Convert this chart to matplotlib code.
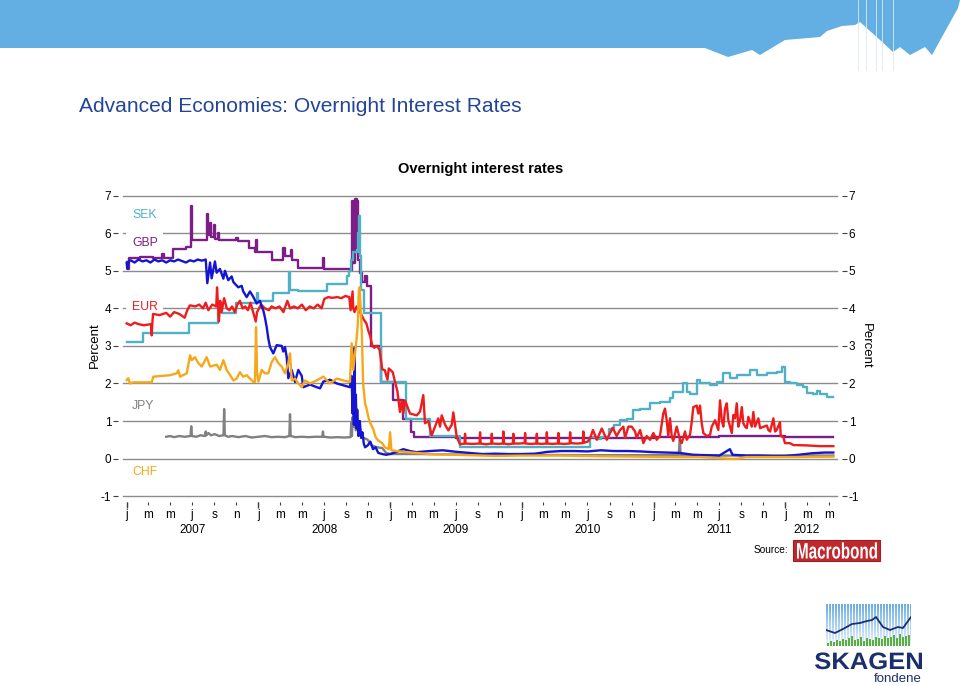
import matplotlib
matplotlib.use("Agg")
import matplotlib.pyplot as plt
import matplotlib.dates as mdates
from matplotlib.patches import Rectangle, Polygon, PathPatch
from matplotlib.lines import Line2D
from matplotlib.ticker import FuncFormatter
from matplotlib.textpath import TextPath
from matplotlib.font_manager import FontProperties
from matplotlib.transforms import Affine2D
import numpy as np
import pandas as pd

plt.rcParams['font.family'] = ['Liberation Sans', 'DejaVu Sans']
plt.rcParams['axes.unicode_minus'] = False

# ---------------- data (decimal years, percent) ----------------
usd_t = [2007.000, 2007.005, 2007.015, 2007.03, 2007.06, 2007.09, 2007.12, 2007.15, 2007.18, 2007.21,
         2007.24, 2007.27, 2007.30, 2007.33, 2007.36, 2007.39, 2007.42, 2007.45, 2007.48, 2007.51,
         2007.54, 2007.57, 2007.60, 2007.612, 2007.633, 2007.645, 2007.670, 2007.683, 2007.708, 2007.734,
         2007.746, 2007.771, 2007.797, 2007.810, 2007.847, 2007.873, 2007.885, 2007.911, 2007.936, 2007.962,
         2007.987, 2008.012, 2008.025, 2008.037, 2008.050, 2008.063, 2008.075, 2008.088, 2008.113, 2008.139,
         2008.177, 2008.189, 2008.202, 2008.215, 2008.227, 2008.253, 2008.278, 2008.303, 2008.329, 2008.341,
         2008.392, 2008.443, 2008.468, 2008.493, 2008.544, 2008.595, 2008.645, 2008.695, 2008.708, 2008.715,
         2008.720, 2008.725, 2008.730, 2008.735, 2008.740, 2008.745, 2008.750, 2008.760, 2008.770, 2008.780,
         2008.790, 2008.800, 2008.810, 2008.830, 2008.850, 2008.870, 2008.890, 2008.910, 2008.940, 2008.970,
         2009.00, 2009.05, 2009.10, 2009.15, 2009.20, 2009.30, 2009.40, 2009.50, 2009.60, 2009.70,
         2009.80, 2009.90, 2010.00, 2010.10, 2010.20, 2010.30, 2010.40, 2010.50, 2010.60, 2010.70,
         2010.80, 2010.90, 2011.00, 2011.10, 2011.20, 2011.30, 2011.40, 2011.50, 2011.58, 2011.60,
         2011.70, 2011.80, 2011.90, 2012.00, 2012.10, 2012.20, 2012.30, 2012.365]
usd_v = [5.20, 5.05, 5.25, 5.28, 5.22, 5.30, 5.25, 5.28, 5.22, 5.30,
         5.25, 5.28, 5.22, 5.28, 5.25, 5.30, 5.26, 5.22, 5.28, 5.25,
         5.30, 5.27, 5.30, 4.67, 5.22, 4.80, 5.25, 4.95, 5.05, 4.79,
         5.00, 4.75, 4.85, 4.70, 4.56, 4.60, 4.45, 4.30, 4.45, 4.30,
         4.13, 4.20, 4.05, 3.95, 3.75, 3.50, 3.20, 2.97, 2.80, 3.02,
         3.00, 2.85, 2.97, 2.70, 2.14, 2.36, 2.04, 2.36, 2.20, 1.90,
         1.97, 1.90, 1.87, 2.05, 2.10, 2.00, 1.95, 1.90, 2.20, 1.20,
         2.00, 0.90, 2.95, 0.90, 1.70, 0.80, 1.30, 0.60, 1.00, 0.55,
         0.70, 0.40, 0.30, 0.35, 0.45, 0.25, 0.30, 0.15, 0.12, 0.10,
         0.12, 0.18, 0.25, 0.20, 0.17, 0.20, 0.22, 0.18, 0.15, 0.12,
         0.13, 0.12, 0.12, 0.13, 0.18, 0.20, 0.20, 0.19, 0.22, 0.20,
         0.20, 0.19, 0.17, 0.16, 0.15, 0.10, 0.09, 0.08, 0.25, 0.10,
         0.08, 0.08, 0.07, 0.07, 0.10, 0.14, 0.16, 0.16]

eur_t = [2007.000, 2007.030, 2007.060, 2007.090, 2007.130, 2007.185, 2007.190, 2007.195, 2007.200, 2007.250,
         2007.300, 2007.330, 2007.360, 2007.400, 2007.440, 2007.460, 2007.480, 2007.520, 2007.550, 2007.580,
         2007.600, 2007.620, 2007.650, 2007.680, 2007.686, 2007.700, 2007.710, 2007.720, 2007.740, 2007.760,
         2007.780, 2007.800, 2007.820, 2007.840, 2007.860, 2007.880, 2007.900, 2007.920, 2007.940, 2007.960,
         2007.980, 2007.990, 2008.020, 2008.050, 2008.080, 2008.100, 2008.130, 2008.160, 2008.190, 2008.220,
         2008.240, 2008.270, 2008.300, 2008.330, 2008.360, 2008.390, 2008.420, 2008.450, 2008.480, 2008.500,
         2008.530, 2008.560, 2008.600, 2008.630, 2008.660, 2008.690, 2008.700, 2008.710, 2008.715, 2008.720,
         2008.730, 2008.745, 2008.760, 2008.780, 2008.800, 2008.820, 2008.835, 2008.850, 2008.865, 2008.880,
         2008.900, 2008.920, 2008.940, 2008.960, 2008.980, 2008.990, 2009.020, 2009.040, 2009.055, 2009.062,
         2009.075, 2009.088, 2009.100, 2009.113, 2009.151, 2009.202, 2009.227, 2009.252, 2009.265, 2009.290,
         2009.316, 2009.341, 2009.366, 2009.379, 2009.392, 2009.417, 2009.442, 2009.468, 2009.480, 2009.493,
         2009.506, 2009.531, 2009.565, 2009.569, 2009.573, 2009.620, 2009.679, 2009.683, 2009.687, 2009.730,
         2009.768, 2009.772, 2009.776, 2009.820, 2009.856, 2009.860, 2009.864, 2009.900, 2009.932, 2009.936,
         2009.940, 2009.980, 2010.021, 2010.025, 2010.029, 2010.070, 2010.110, 2010.114, 2010.118, 2010.150,
         2010.186, 2010.190, 2010.194, 2010.230, 2010.274, 2010.278, 2010.282, 2010.320, 2010.363, 2010.367,
         2010.371, 2010.420, 2010.463, 2010.467, 2010.471, 2010.500, 2010.520, 2010.540, 2010.570, 2010.607,
         2010.645, 2010.690, 2010.720, 2010.746, 2010.771, 2010.784, 2010.809, 2010.834, 2010.860, 2010.872,
         2010.898, 2010.923, 2010.948, 2010.974, 2010.999, 2011.024, 2011.049, 2011.074, 2011.087, 2011.100,
         2011.112, 2011.125, 2011.138, 2011.150, 2011.176, 2011.201, 2011.214, 2011.239, 2011.252, 2011.277,
         2011.290, 2011.302, 2011.328, 2011.340, 2011.353, 2011.366, 2011.378, 2011.404, 2011.429, 2011.442,
         2011.467, 2011.492, 2011.505, 2011.518, 2011.530, 2011.543, 2011.556, 2011.568, 2011.594, 2011.606,
         2011.619, 2011.632, 2011.644, 2011.657, 2011.670, 2011.682, 2011.695, 2011.708, 2011.720, 2011.746,
         2011.758, 2011.771, 2011.796, 2011.809, 2011.860, 2011.872, 2011.885, 2011.910, 2011.923, 2011.935,
         2011.960, 2011.966, 2011.986, 2011.998, 2012.036, 2012.061, 2012.163, 2012.264, 2012.365]
eur_v = [3.60, 3.55, 3.62, 3.58, 3.55, 3.58, 3.28, 3.62, 3.85, 3.82,
         3.88, 3.78, 3.90, 3.85, 3.75, 3.95, 4.08, 4.05, 4.10, 4.00,
         4.15, 3.95, 4.10, 4.05, 4.56, 3.65, 4.20, 3.90, 4.27, 4.00,
         3.95, 4.05, 3.90, 4.10, 4.20, 4.00, 4.05, 3.95, 4.15, 3.90,
         3.65, 3.90, 4.10, 4.00, 3.95, 4.05, 4.00, 4.05, 3.90, 4.20,
         4.00, 4.05, 4.00, 4.10, 3.95, 4.05, 4.00, 4.10, 4.00, 4.25,
         4.30, 4.28, 4.30, 4.27, 4.33, 4.30, 3.95, 4.30, 4.45, 4.00,
         3.90, 4.05, 3.95, 3.85, 3.70, 3.60, 3.40, 3.25, 3.00, 2.95,
         3.00, 2.90, 2.38, 2.35, 2.10, 2.40, 2.30, 2.00, 1.80, 1.60,
         1.24, 1.55, 1.20, 1.55, 1.20, 1.15, 1.25, 1.69, 0.94, 1.00,
         0.62, 0.85, 1.07, 0.85, 1.15, 0.90, 0.75, 0.90, 1.23, 0.90,
         0.57, 0.38, 0.40, 0.66, 0.40, 0.39, 0.40, 0.70, 0.40, 0.38,
         0.40, 0.66, 0.40, 0.39, 0.40, 0.72, 0.40, 0.38, 0.40, 0.66,
         0.40, 0.40, 0.41, 0.68, 0.40, 0.39, 0.40, 0.66, 0.40, 0.39,
         0.40, 0.70, 0.40, 0.39, 0.40, 0.68, 0.40, 0.39, 0.40, 0.70,
         0.41, 0.40, 0.41, 0.72, 0.42, 0.45, 0.55, 0.76, 0.50, 0.80,
         0.50, 0.82, 0.60, 0.76, 0.85, 0.55, 0.85, 0.85, 0.72, 0.55,
         0.76, 0.41, 0.60, 0.50, 0.68, 0.50, 0.60, 1.20, 1.33, 1.02,
         0.60, 1.07, 0.60, 0.47, 0.85, 0.50, 0.41, 0.72, 0.50, 0.63,
         0.97, 1.37, 1.41, 1.20, 1.41, 0.94, 0.68, 0.60, 0.63, 0.85,
         1.02, 0.76, 1.55, 1.02, 0.85, 1.33, 1.47, 1.02, 0.68, 1.16,
         1.07, 1.47, 0.85, 1.02, 1.37, 0.94, 0.85, 0.81, 1.11, 0.85,
         1.24, 0.85, 1.07, 0.81, 0.88, 0.76, 0.72, 1.07, 0.72, 0.76,
         0.97, 0.60, 0.57, 0.41, 0.41, 0.36, 0.35, 0.33, 0.33]

gbp_t = [2007.000, 2007.008, 2007.015, 2007.100, 2007.200, 2007.270, 2007.280, 2007.350, 2007.450, 2007.490,
         2007.495, 2007.610, 2007.615, 2007.635, 2007.640, 2007.665, 2007.670, 2007.690, 2007.700, 2007.830,
         2007.845, 2007.930, 2007.975, 2007.985, 2007.990, 2008.105, 2008.190, 2008.200, 2008.245, 2008.255,
         2008.300, 2008.490, 2008.495, 2008.600, 2008.700, 2008.712, 2008.722, 2008.735, 2008.745, 2008.752,
         2008.760, 2008.775, 2008.790, 2008.810, 2008.825, 2008.852, 2008.930, 2009.020, 2009.100, 2009.160,
         2009.180, 2009.500, 2010.000, 2010.500, 2011.000, 2011.500, 2012.000, 2012.365]
gbp_v = [5.24, 5.06, 5.33, 5.36, 5.33, 5.46, 5.34, 5.59, 5.64, 6.72,
         5.81, 6.50, 5.95, 6.26, 5.90, 6.22, 5.85, 6.00, 5.82, 5.88,
         5.80, 5.62, 5.50, 5.83, 5.50, 5.28, 5.60, 5.40, 5.55, 5.30,
         5.08, 5.33, 5.06, 5.04, 5.03, 6.85, 5.20, 6.90, 5.60, 6.85,
         5.30, 4.95, 4.70, 4.85, 4.60, 3.00, 2.05, 1.55, 1.05, 0.70,
         0.58, 0.55, 0.56, 0.56, 0.58, 0.60, 0.58, 0.57]

sek_t = [2007.000, 2007.125, 2007.470, 2007.690, 2007.700, 2007.720, 2007.830, 2007.990, 2008.000, 2008.110,
         2008.230, 2008.240, 2008.300, 2008.520, 2008.670, 2008.690, 2008.705, 2008.720, 2008.755, 2008.762,
         2008.770, 2008.780, 2008.800, 2008.930, 2009.120, 2009.300, 2009.530, 2010.520, 2010.560, 2010.600,
         2010.660, 2010.700, 2010.746, 2010.797, 2010.847, 2010.898, 2010.974, 2011.050, 2011.126, 2011.151,
         2011.226, 2011.252, 2011.277, 2011.328, 2011.353, 2011.429, 2011.480, 2011.530, 2011.580, 2011.632,
         2011.708, 2011.733, 2011.783, 2011.860, 2011.935, 2011.973, 2011.998, 2012.036, 2012.087, 2012.137,
         2012.163, 2012.213, 2012.239, 2012.264, 2012.315, 2012.365]
sek_v = [3.10, 3.35, 3.62, 3.88, 4.15, 3.88, 4.15, 4.40, 4.20, 4.42,
         4.97, 4.50, 4.45, 4.66, 4.85, 5.00, 5.30, 5.50, 6.00, 6.45,
         5.40, 4.50, 3.88, 2.05, 1.05, 0.60, 0.32, 0.57, 0.52, 0.58,
         0.80, 0.90, 1.02, 1.06, 1.29, 1.33, 1.47, 1.51, 1.60, 1.77,
         2.00, 1.77, 1.73, 2.09, 2.00, 1.97, 2.05, 2.27, 2.14, 2.22,
         2.22, 2.35, 2.22, 2.27, 2.30, 2.43, 2.03, 2.00, 1.95, 1.90,
         1.74, 1.72, 1.80, 1.72, 1.64, 1.65]

chf_t = [2007.000, 2007.012, 2007.025, 2007.050, 2007.100, 2007.190, 2007.202, 2007.329, 2007.380, 2007.392,
         2007.405, 2007.456, 2007.481, 2007.494, 2007.519, 2007.544, 2007.570, 2007.607, 2007.633, 2007.683,
         2007.708, 2007.734, 2007.759, 2007.784, 2007.810, 2007.835, 2007.860, 2007.885, 2007.911, 2007.936,
         2007.962, 2007.974, 2007.982, 2007.990, 2008.000, 2008.025, 2008.050, 2008.075, 2008.101, 2008.126,
         2008.151, 2008.177, 2008.202, 2008.227, 2008.240, 2008.253, 2008.278, 2008.303, 2008.329, 2008.354,
         2008.392, 2008.443, 2008.493, 2008.544, 2008.595, 2008.645, 2008.695, 2008.708, 2008.720, 2008.746,
         2008.755, 2008.762, 2008.768, 2008.775, 2008.785, 2008.795, 2008.810, 2008.820, 2008.835, 2008.850,
         2008.870, 2008.890, 2008.910, 2008.940, 2008.960, 2008.990, 2009.000, 2009.010, 2009.050, 2009.100,
         2009.200, 2009.300, 2009.500, 2009.800, 2010.000, 2010.300, 2010.600, 2010.900, 2011.200, 2011.350,
         2011.450, 2011.600, 2011.650, 2011.700, 2012.000, 2012.365]
chf_v = [2.09, 2.14, 2.00, 2.03, 2.03, 2.03, 2.18, 2.22, 2.27, 2.35,
         2.18, 2.27, 2.75, 2.62, 2.70, 2.54, 2.45, 2.70, 2.45, 2.50,
         2.36, 2.62, 2.36, 2.23, 2.08, 2.13, 2.30, 2.18, 2.22, 2.13,
         2.04, 2.04, 3.50, 2.30, 2.05, 2.36, 2.27, 2.27, 2.57, 2.70,
         2.54, 2.45, 2.27, 2.54, 2.80, 2.08, 2.13, 2.00, 1.90, 2.08,
         2.00, 2.08, 2.18, 2.00, 2.13, 2.08, 2.04, 3.07, 2.36, 3.20,
         3.60, 4.45, 4.56, 4.10, 3.40, 2.00, 1.47, 1.35, 1.10, 0.94,
         0.80, 0.57, 0.48, 0.41, 0.30, 0.25, 0.70, 0.22, 0.20, 0.18,
         0.15, 0.12, 0.10, 0.07, 0.08, 0.08, 0.06, 0.05, 0.04, 0.04,
         0.02, -0.01, 0.00, 0.04, 0.04, 0.05]

jpy_t = [2007.300, 2007.330, 2007.360, 2007.400, 2007.440, 2007.485, 2007.490, 2007.495, 2007.530, 2007.560,
         2007.595, 2007.600, 2007.605, 2007.620, 2007.640, 2007.670, 2007.700, 2007.735, 2007.740, 2007.745,
         2007.770, 2007.800, 2007.850, 2007.900, 2007.950, 2008.000, 2008.050, 2008.100, 2008.150, 2008.200,
         2008.235, 2008.240, 2008.245, 2008.280, 2008.330, 2008.380, 2008.430, 2008.485, 2008.490, 2008.495,
         2008.550, 2008.600, 2008.650, 2008.700, 2008.705, 2008.710, 2008.715, 2008.720, 2008.730, 2008.740,
         2008.750, 2008.760, 2008.770, 2008.780, 2008.800, 2008.830, 2008.860, 2008.900, 2008.940, 2008.970,
         2009.000, 2009.200, 2009.500, 2010.000, 2010.500, 2011.000, 2011.190, 2011.200, 2011.205, 2011.500,
         2012.000, 2012.365]
jpy_v = [0.58, 0.60, 0.57, 0.60, 0.58, 0.60, 0.86, 0.60, 0.58, 0.62,
         0.60, 0.72, 0.62, 0.68, 0.62, 0.65, 0.60, 0.62, 1.32, 0.62,
         0.58, 0.60, 0.57, 0.60, 0.56, 0.58, 0.60, 0.57, 0.58, 0.57,
         0.60, 1.18, 0.60, 0.57, 0.58, 0.57, 0.58, 0.58, 0.72, 0.58,
         0.56, 0.57, 0.56, 0.57, 0.95, 0.60, 1.10, 0.85, 0.95, 0.75,
         0.85, 0.70, 0.80, 0.60, 0.55, 0.50, 0.35, 0.30, 0.28, 0.15,
         0.12, 0.12, 0.11, 0.10, 0.09, 0.09, 0.09, 0.50, 0.10, 0.08,
         0.08, 0.08]

series_names = ['JPY', 'GBP', 'SEK', 'EUR', 'USD', 'CHF']
series_colors = {'SEK': '#4FB0C6', 'GBP': '#7D1D87', 'EUR': '#EE1C1C',
                 'USD': '#1414D2', 'CHF': '#F6A81A', 'JPY': '#808080'}
y_ticks = [-1, 0, 1, 2, 3, 4, 5, 6, 7]
month_letters = {1: 'j', 3: 'm', 5: 'm', 7: 'j', 9: 's', 11: 'n'}
years = [2007, 2008, 2009, 2010, 2011, 2012]
year_label_pos = [2007.5, 2008.5, 2009.5, 2010.5, 2011.5, 2012.16]
labelled = [('SEK', 6.48), ('GBP', 5.73), ('EUR', 4.03), ('JPY', 1.40), ('CHF', -0.36)]

# ---------------- helpers ----------------
BASE = pd.Timestamp('2007-01-01')


def to_dates(ts):
    return [BASE + pd.Timedelta(days=(t - 2007.0) * 365.25) for t in ts]


W, H = 960, 686
fig = plt.figure(figsize=(W / 100, H / 100), dpi=100)


def fx(x):
    return x / W


def fy(y):
    return 1 - y / H


def fitted_word(word, x0, x1, y_base, cap, weight, color, zorder=5):
    """Draw a word as a path fitted to a pixel box (x0..x1, baseline y_base, cap height)."""
    p = TextPath((0, 0), word, size=100, prop=FontProperties(family='Liberation Sans', weight=weight))
    e = p.get_extents()
    sx = (x1 - x0) / e.width
    sy = cap / 71.6
    tr = Affine2D().translate(-e.x0, 0).scale(sx, sy).translate(x0, H - y_base)
    fig.add_artist(PathPatch(p, transform=tr, fc=color, ec='none', zorder=zorder))


# ---------------- slide decoration ----------------
banner_px = [(0, 0), (960, 0), (958, 8), (932, 55), (925, 47), (910, 55), (900, 47), (893, 52),
             (880, 40), (860, 22), (855, 25), (842, 26), (827, 31), (820, 37), (785, 40),
             (760, 55), (752, 50), (728, 57), (705, 48), (0, 48)]
fig.add_artist(Polygon([(fx(x), fy(y)) for x, y in banner_px], closed=True,
                       transform=fig.transFigure, fc='#63AEE2', ec='none', zorder=0))
for xv in [858, 866, 876, 882, 893]:
    fig.add_artist(Line2D([fx(xv), fx(xv)], [fy(0), fy(70)], transform=fig.transFigure,
                          color='#DCE8F2', lw=0.6, zorder=1))

fig.text(fx(79), fy(106), 'Advanced Economies: Overnight Interest Rates', ha='left', va='center',
         fontsize=15.1, color='#22449A')

# ---------------- chart ----------------
ax = fig.add_axes([fx(123), fy(496.1), 714 / W, 300.4 / H])
ax.set_ylim(-1, 7)
ax.set_xlim(to_dates([2006.972, 2012.393]))

for yv in y_ticks:
    ax.axhline(yv, color='#8C8C8C', lw=1.0, zorder=1, clip_on=False)

zorders = {'JPY': 4, 'GBP': 5, 'SEK': 6, 'EUR': 7, 'USD': 8, 'CHF': 9}
data = {'USD': (usd_t, usd_v, 'default'), 'EUR': (eur_t, eur_v, 'default'),
        'GBP': (gbp_t, gbp_v, 'steps-post'), 'SEK': (sek_t, sek_v, 'steps-post'),
        'CHF': (chf_t, chf_v, 'default'), 'JPY': (jpy_t, jpy_v, 'default')}
for name in series_names:
    t, v, ds = data[name]
    ax.plot(to_dates(t), v, color=series_colors[name], lw=1.7, drawstyle=ds,
            zorder=zorders[name])

for name, yv in labelled:
    ax.text(to_dates([2007.04])[0], yv, name, color=series_colors[name], fontsize=8.8,
            ha='left', va='center', zorder=3,
            bbox=dict(boxstyle='square,pad=0.45', fc='white', ec='none'))

for s in ax.spines.values():
    s.set_visible(False)
ax.spines['left'].set_position(('outward', 3.6))
ax.spines['right'].set_position(('outward', 3.6))
ax.spines['bottom'].set_position(('outward', 4.3))

ax.set_yticks(y_ticks)
ax.yaxis.set_ticks_position('both')
ax.tick_params(axis='y', which='major', left=True, right=True, labelleft=True, labelright=True,
               length=3.6, width=0.8, color='#404040', pad=1.2, labelsize=8.5)

ax.xaxis.set_major_locator(mdates.MonthLocator(bymonth=list(month_letters.keys())))
ax.xaxis.set_major_formatter(FuncFormatter(lambda x, pos: month_letters[mdates.num2date(x).month]))
ax.xaxis.set_minor_locator(mdates.YearLocator())
ax.xaxis.remove_overlapping_locs = False
ax.tick_params(axis='x', which='major', length=1.8, width=0.8, color='#404040', pad=3.2,
               labelsize=8.5)
ax.tick_params(axis='x', which='minor', length=4.3, width=1.0, color='#404040')

for yr, pos in zip(years, year_label_pos):
    ax.annotate(str(yr), xy=(to_dates([pos])[0], 0), xycoords=('data', 'axes fraction'),
                xytext=(0, -37), textcoords='offset pixels', ha='center', va='baseline',
                fontsize=8.5, annotation_clip=False)

fig.text(fx(481), fy(169), 'Overnight interest rates', ha='center', va='center',
         fontsize=10.5, fontweight='bold')
fig.text(fx(95), fy(345), 'Percent', rotation=90, ha='center', va='center', fontsize=9.5)
fig.text(fx(866), fy(346), 'Percent', rotation=270, ha='center', va='center', fontsize=9.5)

# ---------------- source / logos ----------------
fig.text(fx(788), fy(550), 'Source:', ha='right', va='center', fontsize=7.3)
fig.add_artist(Rectangle((fx(793), fy(561)), 87 / W, 21 / H, transform=fig.transFigure,
                         fc='#C0282D', ec='#9E1F24', lw=0.8))
fitted_word('Macrobond', 797, 877, 558.5, 16, 'bold', 'white')

lax = fig.add_axes([fx(826), fy(646), 85 / W, 42 / H])
rows, cols = 42, 85
img = np.ones((rows, cols, 3))
top = np.array([0.42, 0.68, 0.90])
bot = np.array([0.92, 0.96, 1.0])
for r in range(rows):
    c = top + (bot - top) * r / (rows - 1)
    for cc in range(cols):
        if cc % 3 != 2:
            img[r, cc] = c
lax.imshow(img, extent=(0, cols, 0, rows), aspect='auto', interpolation='nearest')
logo_bars = [3, 5, 4, 6, 5, 7, 6, 8, 10, 6, 7, 9, 5, 8, 7, 6, 9, 8, 7, 10, 8, 9, 11, 8, 12, 9, 10, 11]
for i, hgt in enumerate(logo_bars):
    lax.add_patch(Rectangle((1 + i * 3, 0), 1.6, hgt, fc='#5DAE3F', ec='none'))
logo_x = [0, 9, 17, 26, 34, 41, 46, 50, 57, 64, 72, 77, 85]
logo_y = [16, 13, 17, 22, 23, 25, 26, 29, 19, 16, 19, 18, 29]
lax.plot(logo_x, logo_y, color='#1B2F6E', lw=1.3)
lax.set_xlim(0, cols)
lax.set_ylim(0, rows)
lax.axis('off')

fitted_word('SKAGEN', 815, 922, 669, 17, 'bold', '#1B2F6E')
fig.text(fx(898), fy(679), 'fondene', ha='center', va='center', fontsize=9.5, color='#1B2F6E')

fig.savefig('out.png', dpi=100)
